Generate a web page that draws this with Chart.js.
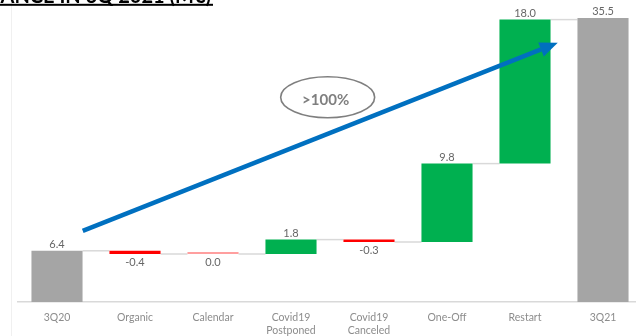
<!DOCTYPE html>
<html>
<head>
<meta charset="utf-8">
<script src="https://cdn.jsdelivr.net/npm/chart.js@4"></script>
<style>
  body { margin: 0; background: #fff; overflow: hidden; }
  #wrap { position: relative; width: 650px; height: 336px; }
</style>
</head>
<body>
<div id="wrap"><canvas id="bridgeChart"></canvas></div>
<script>
const categories = ["3Q20", "Organic", "Calendar", ["Covid19", "Postponed"], ["Covid19", "Canceled"], "One-Off", "Restart", "3Q21"];
const values = [6.4, -0.4, 0.0, 1.8, -0.3, 9.8, 18.0, 35.5];
const isTotal = [true, false, false, false, false, false, false, true];
const valueLabels = ["6.4", "-0.4", "0.0", "1.8", "-0.3", "9.8", "18.0", "35.5"];

// arrow and bubble, in chart units (category index, M€)
const arrowFrom = [0.33, 8.9];
const arrowTo = [6.42, 32.4];
const bubbleAt = [3.47, 25.6];
const bubbleText = ">100%";

// floating bars for the bridge
let running = 0;
const ranges = values.map((v, i) => {
  if (isTotal[i]) { running = v; return [0, v]; }
  const start = running;
  running += v;
  return [start, running];
});

const colors = values.map((v, i) => {
  if (isTotal[i]) return "#A5A5A5";
  if (v > 0) return "#00B050";
  if (v < 0) return "#FF0000";
  return "#FF9F9F";
});

const extras = {
  id: "extras",
  beforeDatasetsDraw(chart) {
    const ctx = chart.ctx;
    const bars = chart.getDatasetMeta(0).data;
    ctx.save();
    // faint frame line on the left
    ctx.strokeStyle = "#F0F0F0";
    ctx.lineWidth = 1;
    ctx.beginPath();
    ctx.moveTo(11.5, 0);
    ctx.lineTo(11.5, 336);
    ctx.stroke();
    // connectors
    ctx.strokeStyle = "#D9D9D9";
    ctx.lineWidth = 1.5;
    for (let i = 0; i < bars.length - 1; i++) {
      const level = chart.scales.y.getPixelForValue(ranges[i][1]);
      ctx.beginPath();
      ctx.moveTo(bars[i].x + bars[i].width / 2, level);
      ctx.lineTo(bars[i + 1].x - bars[i + 1].width / 2, level);
      ctx.stroke();
    }
    ctx.restore();
  },
  afterDatasetsDraw(chart) {
    const ctx = chart.ctx;
    const bars = chart.getDatasetMeta(0).data;
    const x = chart.scales.x, y = chart.scales.y;
    ctx.save();
    // value labels
    ctx.font = "11px Lato";
    ctx.fillStyle = "#666666";
    ctx.textAlign = "center";
    bars.forEach((b, i) => {
      const top = Math.min(b.y, b.base);
      const bottom = Math.max(b.y, b.base);
      if (!isTotal[i] && values[i] <= 0) {
        ctx.textBaseline = "top";
        ctx.fillText(valueLabels[i], b.x, bottom + 3);
      } else {
        ctx.textBaseline = "bottom";
        ctx.fillText(valueLabels[i], b.x, top - 1);
      }
    });

    // title remnant at the top
    ctx.font = "bold 20px Lato";
    ctx.fillStyle = "#000";
    ctx.textAlign = "right";
    ctx.textBaseline = "alphabetic";
    ctx.fillText("PERFORMANCE IN 3Q 2021 (M€)", 211, 3);
    ctx.fillRect(0, 3.8, 213, 2);

    // bubble
    const bx = x.getPixelForValue(bubbleAt[0]);
    const by = y.getPixelForValue(bubbleAt[1]);
    ctx.strokeStyle = "#7F7F7F";
    ctx.lineWidth = 1.6;
    ctx.beginPath();
    ctx.ellipse(bx, by, 47, 20.5, 0, 0, Math.PI * 2);
    ctx.stroke();
    ctx.font = "bold 15px Lato";
    ctx.fillStyle = "#7F7F7F";
    ctx.textAlign = "center";
    ctx.textBaseline = "middle";
    ctx.fillText(bubbleText, bx - 2, by + 3);

    // arrow
    const x0 = x.getPixelForValue(arrowFrom[0]), y0 = y.getPixelForValue(arrowFrom[1]);
    const x1 = x.getPixelForValue(arrowTo[0]), y1 = y.getPixelForValue(arrowTo[1]);
    const ang = Math.atan2(y1 - y0, x1 - x0);
    const headLen = 18, headHalf = 7.5;
    const hx = x1 - headLen * Math.cos(ang), hy = y1 - headLen * Math.sin(ang);
    ctx.strokeStyle = "#0070C0";
    ctx.fillStyle = "#0070C0";
    ctx.lineWidth = 4.5;
    ctx.beginPath();
    ctx.moveTo(x0, y0);
    ctx.lineTo(hx, hy);
    ctx.stroke();
    ctx.beginPath();
    ctx.moveTo(x1, y1);
    ctx.lineTo(hx + headHalf * Math.sin(ang), hy - headHalf * Math.cos(ang));
    ctx.lineTo(hx - headHalf * Math.sin(ang), hy + headHalf * Math.cos(ang));
    ctx.closePath();
    ctx.fill();
    ctx.restore();
  }
};

const ctx = document.getElementById("bridgeChart").getContext("2d");
const bridgeChart = new Chart(ctx, {
  type: "bar",
  data: {
    labels: categories,
    datasets: [
      {
        data: ranges,
        backgroundColor: colors,
        borderWidth: 0,
        borderSkipped: false,
        minBarLength: 2,
        categoryPercentage: 1,
        barPercentage: 0.655,
      },
    ],
  },
  options: {
    responsive: true,
    maintainAspectRatio: false,
    animation: false,
    layout: { padding: { left: 18, right: 8, top: 0, bottom: 0 } },
    plugins: {
      legend: { display: false },
      tooltip: { enabled: false },
    },
    scales: {
      x: {
        grid: { display: false, drawTicks: false },
        border: { display: true, color: "#D9D9D9", width: 1.5 },
        afterFit(scale) { scale.height = 34; },
        ticks: {
          color: "#8C8C8C",
          font: { family: "Lato", size: 10.5, lineHeight: 1.15 },
          padding: 10,
          maxRotation: 0,
          autoSkip: false,
        },
      },
      y: {
        display: false,
        min: 0,
        max: 37.75,
      },
    },
  },
  plugins: [extras],
});
</script>
</body>
</html>
